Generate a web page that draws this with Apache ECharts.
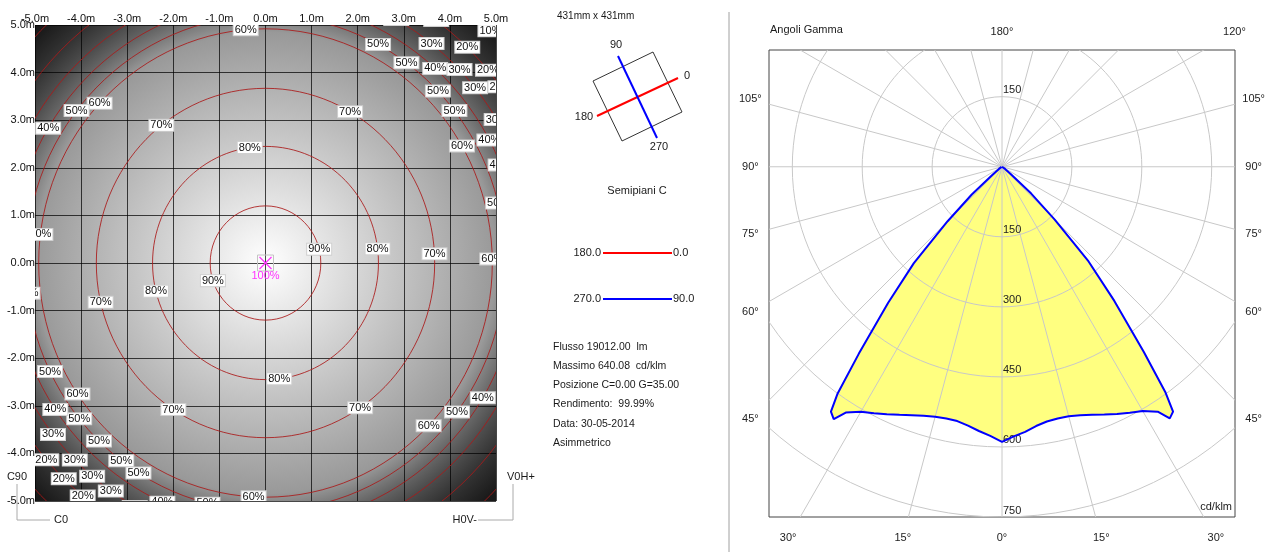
<!DOCTYPE html>
<html>
<head>
<meta charset="utf-8">
<script src="https://cdn.jsdelivr.net/npm/echarts@6/dist/echarts.min.js"></script>
<style>
html, body { margin: 0; padding: 0; background: #fff; }
#main { width: 1273px; height: 552px; }
</style>
</head>
<body>
<div id="main"></div>
<script>
var chart = echarts.init(document.getElementById('main'));
var FONT = '"Liberation Sans", Arial, sans-serif';

// --- isolux plot (left), metres ---
var isoLevels = [90, 80, 70, 60, 50, 40, 30, 20, 10];
var isoRadius = [1.2, 2.45, 3.67, 4.92, 5.2, 5.5, 5.85, 6.3, 6.9];
// where each level's label sits, as angle in degrees (0 = +x, counter clockwise)
var isoLabelAngles = [
  [14, 198],
  [98, 7, 194, 277],
  [60, 128, 3, 193, 237, 304],
  [95, 137, 1, 214, 267, 316, 30, 173],
  [142, 206, 219, 226, 233, 238, 256, 323, 62, 54, 44, 38, 14, 187],
  [149, 214, 246, 329, 69, 48, 28, 22],
  [218, 225, 230, 235, 241, 75, 61, 52, 44, 39, 31],
  [221, 226, 231, 54, 46, 40, 36],
  [45]
];
var peakValue = 100;

// --- polar photometric curve (right), cd/klm ---
var gammaDeg = [0, 2.5, 5, 7.5, 10, 12.5, 15, 17.5, 20, 22.5, 25, 27.5, 30, 32.5, 33.75, 35, 36, 37.5, 40, 42.5, 45, 47.5, 50, 55, 60, 70, 80, 90];
var intensityC90 = [589, 578, 570, 560, 554, 552, 553, 558, 565, 574, 584, 594, 604, 622, 648, 640, 596, 500, 375, 275, 160, 85, 25, 8, 3, 1, 0, 0];
var intensityC270 = [589, 577, 568, 559, 553, 552, 554, 559, 566, 575, 585, 595, 606, 624, 650, 640, 600, 505, 380, 280, 165, 88, 28, 8, 3, 1, 0, 0];
var ringValues = [150, 300, 450, 600, 750];
var spokeAngles = [0, 15, 30, 45, 60, 75, 90, 105, 120, 135, 150, 165, 180, 195, 210, 225, 240, 255, 270, 285, 300, 315, 330, 345];
var gammaLabels = [-105, -90, -75, -60, -45, -30, -15, 0, 15, 30, 45, 60, 75, 90, 105, 120, 180];

var infoLines = [
  'Flusso 19012.00  lm',
  'Massimo 640.08  cd/klm',
  'Posizione C=0.00 G=35.00',
  'Rendimento:  99.99%',
  'Data: 30-05-2014',
  'Asimmetrico'
];

function grey(p) {
  var g = Math.round(255 * p / 100);
  return 'rgb(' + g + ',' + g + ',' + g + ')';
}

// curve points: C90 on the right, C270 on the left
var curvePts = [];
for (var i = gammaDeg.length - 1; i >= 0; i--) {
  var g = gammaDeg[i] * Math.PI / 180;
  curvePts.push([intensityC90[i] * Math.sin(g), -intensityC90[i] * Math.cos(g)]);
}
for (var j = 0; j < gammaDeg.length; j++) {
  var g2 = gammaDeg[j] * Math.PI / 180;
  curvePts.push([-intensityC270[j] * Math.sin(g2), -intensityC270[j] * Math.cos(g2)]);
}

function renderBackground(params, api) {
  var cs = params.coordSys;
  var c = api.coord([0, 0]);
  var u = api.size([1, 1]);
  var unit = (u[0] + u[1]) / 2;
  var rOut = 7.4;
  var stops = [{ offset: 0, color: '#ffffff' }];
  for (var k = 0; k < isoLevels.length; k++) {
    stops.push({ offset: isoRadius[k] / rOut, color: grey(isoLevels[k]) });
  }
  stops.push({ offset: 1, color: '#141414' });
  return {
    type: 'rect',
    shape: { x: cs.x, y: cs.y, width: cs.width, height: cs.height },
    style: { fill: new echarts.graphic.RadialGradient(c[0], c[1], rOut * unit, stops, true) }
  };
}

function renderIsoLine(params, api) {
  var r = isoRadius[params.dataIndex];
  var c = api.coord([0, 0]);
  var s = api.size([r, r]);
  return {
    type: 'ellipse',
    shape: { cx: c[0], cy: c[1], rx: s[0], ry: s[1] },
    style: { fill: null, stroke: 'rgba(170,25,25,0.85)', lineWidth: 1 }
  };
}

function renderIsoLabels(params, api) {
  var k = params.dataIndex;
  var r = isoRadius[k];
  var kids = [];
  isoLabelAngles[k].forEach(function (a) {
    var rad = a * Math.PI / 180;
    var p = api.coord([r * Math.cos(rad), r * Math.sin(rad)]);
    kids.push({
      type: 'text', x: p[0], y: p[1],
      style: {
        text: isoLevels[k] + '%', font: '11px ' + FONT, fill: '#111',
        align: 'center', verticalAlign: 'middle',
        backgroundColor: '#fff', padding: [0, 1], borderColor: '#d0d0d0', borderWidth: 1
      }
    });
  });
  return { type: 'group', children: kids };
}

function renderPeak(params, api) {
  var c = api.coord([0, 0]);
  return {
    type: 'group',
    children: [
      { type: 'rect', shape: { x: c[0] - 8, y: c[1] - 8, width: 16, height: 16 }, style: { fill: null, stroke: '#c4c4c4' } },
      { type: 'line', shape: { x1: c[0] - 6, y1: c[1] - 6, x2: c[0] + 6, y2: c[1] + 6 }, style: { stroke: '#ff33ff', lineWidth: 1.2 } },
      { type: 'line', shape: { x1: c[0] - 6, y1: c[1] + 6, x2: c[0] + 6, y2: c[1] - 6 }, style: { stroke: '#ff33ff', lineWidth: 1.2 } },
      { type: 'text', x: c[0], y: c[1] + 13, style: { text: peakValue + '%', font: '11px ' + FONT, fill: '#ff33ff', align: 'center', verticalAlign: 'middle' } }
    ]
  };
}

function renderRing(params, api) {
  var v = ringValues[params.dataIndex];
  var c = api.coord([0, 0]);
  var s = api.size([v, v]);
  var kids = [{
    type: 'ellipse', shape: { cx: c[0], cy: c[1], rx: s[0], ry: s[1] },
    style: { fill: null, stroke: '#c8c8c8', lineWidth: 1 }
  }];
  kids.push({ type: 'text', x: c[0] + 1, y: c[1] + s[1] - 1, z2: 10,
    style: { text: String(v), font: '11px ' + FONT, fill: '#222', align: 'left', verticalAlign: 'bottom' } });
  if (c[1] - s[1] - 14 > params.coordSys.y) {
    kids.push({ type: 'text', x: c[0] + 1, y: c[1] - s[1] - 1, z2: 10,
      style: { text: String(v), font: '11px ' + FONT, fill: '#222', align: 'left', verticalAlign: 'bottom' } });
  }
  return { type: 'group', children: kids };
}

function renderSpoke(params, api) {
  var a = spokeAngles[params.dataIndex] * Math.PI / 180;
  var c = api.coord([0, 0]);
  var e = api.coord([2000 * Math.sin(a), -2000 * Math.cos(a)]);
  return {
    type: 'line', shape: { x1: c[0], y1: c[1], x2: e[0], y2: e[1] },
    style: { stroke: '#c8c8c8', lineWidth: 1 }
  };
}

function renderCurveFill(params, api) {
  return {
    type: 'polygon',
    shape: { points: curvePts.map(function (p) { return api.coord(p); }) },
    style: { fill: '#ffff80', stroke: null }
  };
}

function renderGammaLabel(params, api) {
  var th = gammaLabels[params.dataIndex];
  var a = th * Math.PI / 180;
  var sx = Math.sin(a), sy = -Math.cos(a);
  var tx = Math.abs(sx) > 1e-6 ? 540 / Math.abs(sx) : Infinity;
  var ty = sy < -1e-6 ? 795 / -sy : (sy > 1e-6 ? 288 / sy : Infinity);
  var t = Math.min(tx, ty);
  var p = api.coord([sx * t, sy * t]);
  return {
    type: 'text', x: p[0], y: p[1],
    style: { text: Math.abs(th) + '°', font: '11px ' + FONT, fill: '#222', align: 'center', verticalAlign: 'middle' }
  };
}

function txt(x, y, s, align, size) {
  return { type: 'text', x: x, y: y, style: { text: s, font: (size || 11) + 'px ' + FONT, fill: '#1a1a1a', align: align || 'left', verticalAlign: 'middle' } };
}
function seg(pts, color, w) {
  return { type: 'polyline', shape: { points: pts }, style: { stroke: color, lineWidth: w || 1, fill: null } };
}

var graphics = [
  seg([[729, 12], [729, 552]], '#a0a0a0'),
  txt(557, 16, '431mm x 431mm', 'left', 10),
  { type: 'polygon', shape: { points: [[593, 81], [653, 52], [682, 112], [622, 141]] }, style: { fill: null, stroke: '#333', lineWidth: 1 } },
  seg([[597, 116], [678, 78]], '#ff0000', 2),
  seg([[618, 56], [657, 138]], '#0000ff', 2),
  txt(616, 45, '90', 'center'),
  txt(684, 76, '0', 'left'),
  txt(584, 117, '180', 'center'),
  txt(659, 147, '270', 'center'),
  txt(637, 191, 'Semipiani C', 'center'),
  txt(601, 253, '180.0', 'right'),
  seg([[603, 253], [672, 253]], '#ff0000', 2),
  txt(673, 253, '0.0', 'left'),
  txt(601, 299, '270.0', 'right'),
  seg([[603, 299], [672, 299]], '#0000ff', 2),
  txt(673, 299, '90.0', 'left'),
  seg([[17, 484], [17, 520], [50, 520]], '#aaaaaa'),
  txt(17, 477, 'C90', 'center'),
  txt(54, 520, 'C0', 'left'),
  seg([[513, 484], [513, 520], [478, 520]], '#aaaaaa'),
  txt(507, 477, 'V0H+', 'left'),
  txt(477, 520, 'H0V-', 'right'),
  txt(770, 30, 'Angoli Gamma', 'left'),
  txt(1232, 507, 'cd/klm', 'right')
];
infoLines.forEach(function (s, k) {
  graphics.push(txt(553, 347 + k * 19.2, s, 'left', 10.5));
});

option = {
  animation: false,
  textStyle: { fontFamily: FONT },
  grid: [
    { left: 35, top: 25, width: 461, height: 476, show: false },
    { left: 769, top: 50, width: 466, height: 467, show: true, borderColor: '#444', borderWidth: 1, backgroundColor: 'transparent' }
  ],
  xAxis: [
    {
      gridIndex: 0, type: 'value', position: 'top', min: -5, max: 5, interval: 1,
      axisLine: { show: false }, axisTick: { show: false },
      axisLabel: { margin: 1, fontSize: 11, color: '#111', formatter: function (v) { return v.toFixed(1) + 'm'; } },
      splitLine: { show: true, lineStyle: { color: 'rgba(0,0,0,0.72)', width: 1 } }
    },
    { gridIndex: 1, type: 'value', min: -500, max: 500, show: false, splitLine: { show: false } }
  ],
  yAxis: [
    {
      gridIndex: 0, type: 'value', min: -5, max: 5, interval: 1,
      axisLine: { show: false }, axisTick: { show: false },
      axisLabel: { margin: 0, fontSize: 11, color: '#111', formatter: function (v) { return v.toFixed(1) + 'm'; } },
      splitLine: { show: true, lineStyle: { color: 'rgba(0,0,0,0.72)', width: 1 } }
    },
    { gridIndex: 1, type: 'value', min: -750, max: 250, show: false, splitLine: { show: false } }
  ],
  series: [
    { type: 'custom', name: 'sfondo', xAxisIndex: 0, yAxisIndex: 0, z: -1, silent: true,
      data: [[0, 0]], renderItem: renderBackground },
    { type: 'custom', name: 'isolinee', xAxisIndex: 0, yAxisIndex: 0, z: 2, clip: true, silent: true,
      data: isoLevels.map(function (p, k) { return [isoRadius[k], 0]; }), renderItem: renderIsoLine },
    { type: 'custom', name: 'etichette', xAxisIndex: 0, yAxisIndex: 0, z: 3, clip: true, silent: true,
      data: isoLevels.map(function (p, k) { return [isoRadius[k], 0]; }), renderItem: renderIsoLabels },
    { type: 'custom', name: 'massimo', xAxisIndex: 0, yAxisIndex: 0, z: 4, silent: true,
      data: [[0, 0]], renderItem: renderPeak },

    { type: 'custom', name: 'area', xAxisIndex: 1, yAxisIndex: 1, z: 1, clip: true, silent: true,
      data: [[0, 0]], renderItem: renderCurveFill },
    { type: 'custom', name: 'raggi', xAxisIndex: 1, yAxisIndex: 1, z: 2, clip: true, silent: true,
      data: spokeAngles.map(function (a) { return [0, 0]; }), renderItem: renderSpoke },
    { type: 'custom', name: 'cerchi', xAxisIndex: 1, yAxisIndex: 1, z: 2, clip: true, silent: true,
      data: ringValues.map(function (v) { return [0, 0]; }), renderItem: renderRing },
    { type: 'line', name: '270.0 - 90.0', xAxisIndex: 1, yAxisIndex: 1, z: 3, silent: true,
      data: curvePts, showSymbol: false, smooth: false,
      lineStyle: { color: '#0000ff', width: 2 } },
    { type: 'custom', name: 'gamma', xAxisIndex: 1, yAxisIndex: 1, z: 4, clip: false, silent: true,
      data: gammaLabels.map(function (a) { return [0, 0]; }), renderItem: renderGammaLabel }
  ],
  graphic: graphics
};

if (option && typeof option === 'object') {
  chart.setOption(option, true);
}
</script>
</body>
</html>
